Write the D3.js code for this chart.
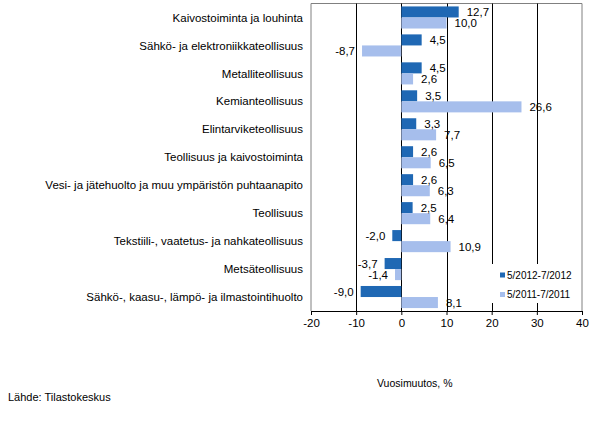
<!DOCTYPE html>
<html>
<head>
<meta charset="utf-8">
<script src="https://cdn.jsdelivr.net/npm/d3@7"></script>
<style>
  body { margin: 0; background: #fff; }
  text { font-family: "Liberation Sans", Arial, sans-serif; fill: #000; }
</style>
</head>
<body>
<svg id="chart"></svg>
<script>
const categories = [
  "Kaivostoiminta ja louhinta",
  "Sähkö- ja elektroniikkateollisuus",
  "Metalliteollisuus",
  "Kemianteollisuus",
  "Elintarviketeollisuus",
  "Teollisuus ja kaivostoiminta",
  "Vesi- ja jätehuolto ja muu ympäristön puhtaanapito",
  "Teollisuus",
  "Tekstiili-, vaatetus- ja nahkateollisuus",
  "Metsäteollisuus",
  "Sähkö-, kaasu-, lämpö- ja ilmastointihuolto"
];
const seriesNames = ["5/2012-7/2012", "5/2011-7/2011"];
const values2012 = [12.7, 4.5, 4.5, 3.5, 3.3, 2.6, 2.6, 2.5, -2.0, -3.7, -9.0];
const values2011 = [10.0, -8.7, 2.6, 26.6, 7.7, 6.5, 6.3, 6.4, 10.9, -1.4, 8.1];
const xTicks = [-20, -10, 0, 10, 20, 30, 40];
const gridValues = [-10, 0, 10, 20, 30];

const width = 598, height = 421;
const plot = { left: 311, right: 582, top: 3.5, bottom: 311 };
const colors = ["#1F68B4", "#A6BEEC"];

const svg = d3.select("#chart").attr("width", width).attr("height", height);

const x = d3.scaleLinear().domain([-20, 40]).range([plot.left, plot.right]);
const y = d3.scaleBand().domain(categories).range([plot.top, plot.bottom]).paddingInner(0.21).paddingOuter(0.105);
const ySub = d3.scaleBand().domain([0, 1]).range([0, y.bandwidth()]);

const rows = categories.map((c, i) => ({ cat: c, vals: [values2012[i], values2011[i]] }));

// plot frame (gray)
svg.append("path")
  .attr("d", `M${plot.left},${plot.bottom}V${plot.top}H${plot.right}V${plot.bottom}`)
  .attr("fill", "none").attr("stroke", "#808080").attr("stroke-width", 1);

// grid lines
svg.append("g").selectAll("line").data(gridValues).join("line")
  .attr("x1", d => Math.round(x(d)) + 0.5).attr("x2", d => Math.round(x(d)) + 0.5)
  .attr("y1", plot.top).attr("y2", plot.bottom)
  .attr("stroke", "#000").attr("stroke-width", 1);

// bars
const groups = svg.append("g").selectAll("g").data(rows).join("g")
  .attr("transform", d => `translate(0,${y(d.cat)})`);

groups.selectAll("rect").data(d => d.vals.map((v, k) => ({ v, k }))).join("rect")
  .attr("x", d => x(Math.min(0, d.v)))
  .attr("y", d => ySub(d.k))
  .attr("width", d => Math.abs(x(d.v) - x(0)))
  .attr("height", ySub.bandwidth())
  .attr("fill", d => colors[d.k]);

const fmt = v => d3.format(".1f")(v).replace(".", ",").replace("−", "-");
groups.selectAll("text").data(d => d.vals.map((v, k) => ({ v, k }))).join("text")
  .attr("x", d => d.v >= 0 ? x(d.v) + 8 : x(d.v) - 7)
  .attr("y", d => ySub(d.k) + ySub.bandwidth() / 2)
  .attr("dy", "0.36em")
  .attr("text-anchor", d => d.v >= 0 ? "start" : "end")
  .attr("font-size", 11.5)
  .text(d => fmt(d.v));

// category labels
svg.append("g").selectAll("text").data(categories).join("text")
  .attr("x", 303)
  .attr("y", d => y(d) + y.bandwidth() / 2)
  .attr("dy", "0.36em")
  .attr("text-anchor", "end")
  .attr("font-size", 11.5)
  .text(d => d);

// legend (white box hides grid lines)
const legend = svg.append("g").attr("transform", "translate(490,264)");
legend.append("rect").attr("width", 90).attr("height", 39).attr("fill", "#fff");
seriesNames.forEach((name, k) => {
  const g = legend.append("g").attr("transform", `translate(10,${8.5 + k * 19.5})`);
  g.append("rect").attr("width", 5).attr("height", 5).attr("fill", colors[k]);
  g.append("text").attr("x", 7).attr("y", 2.5).attr("dy", "0.36em")
    .attr("font-size", 10).text(name);
});

// x axis
const axis = svg.append("g").attr("transform", `translate(0,${plot.bottom})`)
  .call(d3.axisBottom(x).tickValues(xTicks).tickSize(4).tickPadding(4).tickFormat(d => String(d)));
axis.select(".domain").attr("stroke", "#000");
axis.selectAll(".tick line").attr("stroke", "#000");
axis.selectAll(".tick text").attr("font-size", 11.5).attr("font-family", "Liberation Sans, Arial, sans-serif").attr("fill", "#000");

svg.append("text").attr("x", 377).attr("y", 387).attr("font-size", 10.5).text("Vuosimuutos, %");
svg.append("text").attr("x", 8).attr("y", 401).attr("font-size", 11).text("Lähde: Tilastokeskus");
</script>
</body>
</html>
